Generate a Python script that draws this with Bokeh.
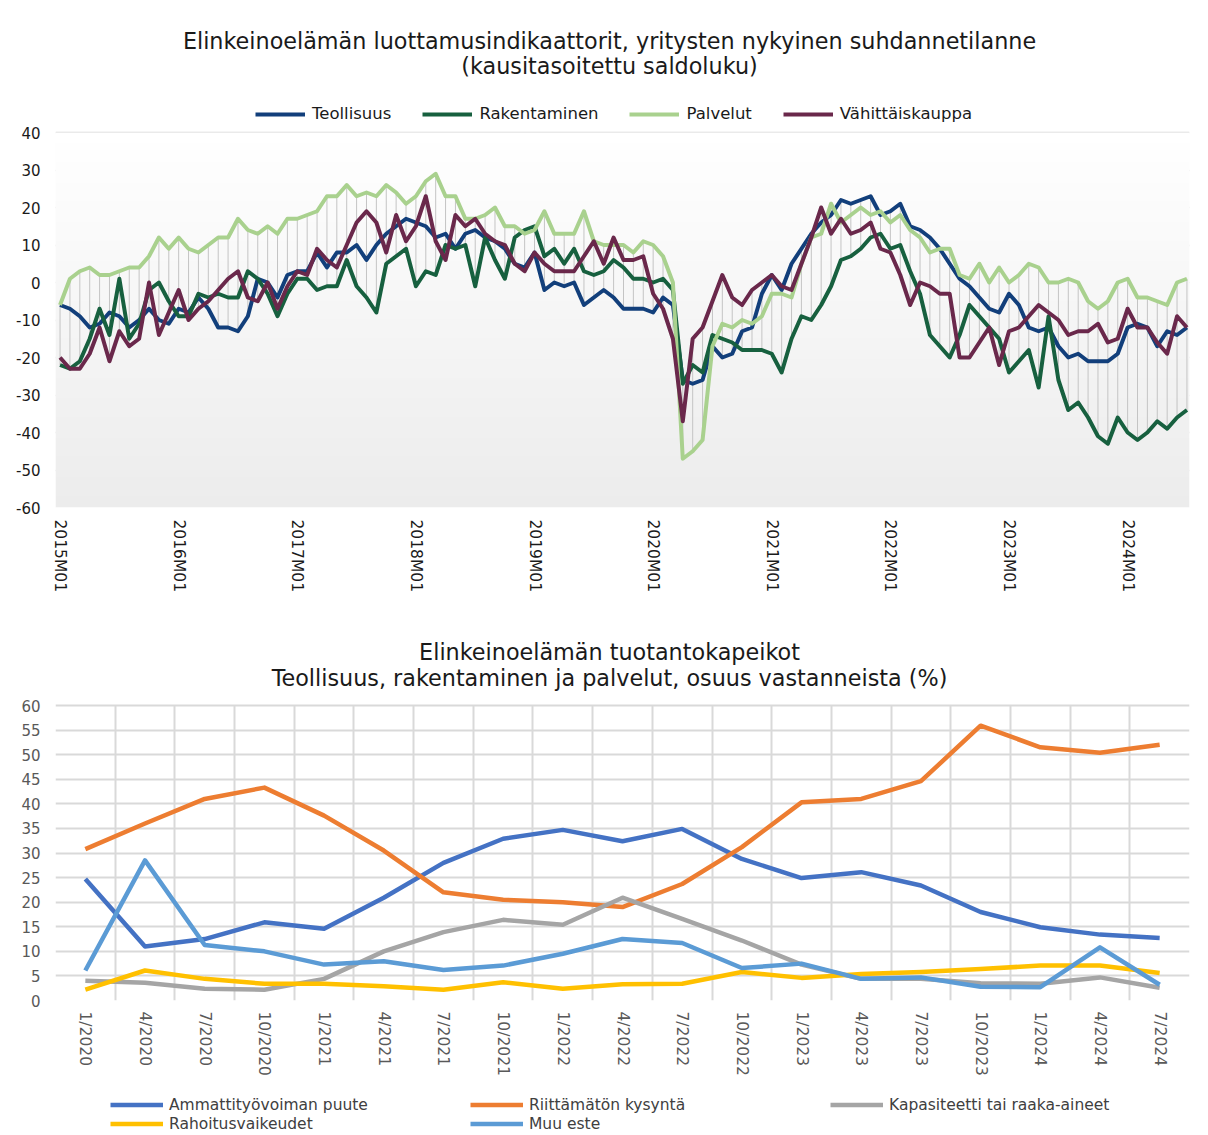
import numpy as np
from bokeh.plotting import figure
from bokeh.models import Range1d, FixedTicker, Legend, LegendItem, Label, Grid
from bokeh.layouts import column
from bokeh.embed import file_html
from bokeh.resources import INLINE

FONT = "DejaVu Sans"

# ---------------- top chart data (monthly 2015M01 .. 2024M07) ----------------
month_labels = [f"{2015 + i // 12}M{i % 12 + 1:02d}" for i in range(115)]

teollisuus = [-6, -7, -9, -12, -11, -8, -9, -12, -10, -7, -10, -11,
              -7, -8, -4, -7, -12, -12, -13, -9, 1, 0, -4, 2,
              3, 3, 8, 4, 8, 8, 10, 6, 10, 13, 15, 17,
              16, 15, 12, 13, 9, 13, 14, 12, 11, 9, 5, 4,
              8, -2, 0, -1, 0, -6, -4, -2, -4, -7, -7, -7,
              -8, -4, -6, -26, -27, -26, -17, -20, -19, -13, -12, -3,
              2, -2, 5, 9, 13, 16, 18, 22, 21, 22, 23, 18,
              19, 21, 15, 14, 12, 9, 5, 1, -1, -4, -7, -8,
              -3, -6, -12, -13, -12, -17, -20, -19, -21, -21, -21, -19,
              -12, -11, -12, -17, -13, -14, -12]
rakentaminen = [-22, -23, -21, -15, -7, -14, 1, -15, -11, -2, 0, -5,
                -9, -9, -3, -4, -3, -4, -4, 3, 1, -3, -9, -3,
                1, 1, -2, -1, -1, 6, -1, -4, -8, 5, 7, 9,
                -1, 3, 2, 10, 9, 10, -1, 12, 6, 1, 12, 14,
                15, 7, 9, 5, 9, 3, 2, 3, 6, 4, 1, 1,
                0, 1, -2, -27, -22, -24, -14, -15, -16, -18, -18, -18,
                -19, -24, -15, -9, -10, -6, -1, 6, 7, 9, 12, 13,
                9, 10, 3, -3, -14, -17, -20, -14, -6, -9, -12, -15,
                -24, -21, -18, -28, -9, -26, -34, -32, -36, -41, -43, -36,
                -40, -42, -40, -37, -39, -36, -34]
palvelut = [-6, 1, 3, 4, 2, 2, 3, 4, 4, 7, 12, 9,
            12, 9, 8, 10, 12, 12, 17, 14, 13, 15, 13, 17,
            17, 18, 19, 23, 23, 26, 23, 24, 23, 26, 24, 21,
            23, 27, 29, 23, 23, 17, 17, 18, 20, 15, 15, 13,
            14, 19, 13, 13, 13, 19, 11, 10, 10, 10, 8, 11,
            10, 7, 0, -47, -45, -42, -17, -11, -12, -10, -11, -9,
            -3, -3, -4, 5, 12, 13, 21, 16, 18, 20, 18, 19,
            16, 18, 14, 12, 8, 9, 9, 2, 1, 5, 0, 4,
            0, 2, 5, 4, 0, 0, 1, 0, -5, -7, -5, 0,
            1, -4, -4, -5, -6, 0, 1]
vahittaiskauppa = [-20, -23, -23, -19, -12, -21, -13, -17, -15, 0, -14, -8,
                   -2, -10, -7, -5, -2, 1, 3, -4, -5, 0, -7, -1,
                   3, 2, 9, 6, 4, 10, 16, 19, 16, 8, 18, 11,
                   15, 23, 11, 6, 18, 15, 17, 13, 11, 10, 5, 3,
                   8, 5, 3, 3, 3, 7, 11, 5, 12, 6, 6, 7,
                   -3, -7, -15, -37, -15, -12, -5, 2, -4, -6, -2, 0,
                   2, -1, -2, 5, 12, 20, 13, 17, 13, 14, 16, 9,
                   8, 2, -6, 0, -1, -3, -3, -20, -20, -16, -12, -22,
                   -13, -12, -9, -6, -8, -10, -14, -13, -13, -11, -16, -15,
                   -7, -12, -12, -16, -19, -9, -12]

top_series = [("Teollisuus", teollisuus, "#123F7B"),
              ("Rakentaminen", rakentaminen, "#17603F"),
              ("Palvelut", palvelut, "#A9D18E"),
              ("Vähittäiskauppa", vahittaiskauppa, "#6A284B")]

# ---------------- bottom chart data (quarterly) ----------------
quarters = ["1/2020", "4/2020", "7/2020", "10/2020", "1/2021", "4/2021", "7/2021",
            "10/2021", "1/2022", "4/2022", "7/2022", "10/2022", "1/2023", "4/2023",
            "7/2023", "10/2023", "1/2024", "4/2024", "7/2024"]
ammattityovoima = [24.7, 11.0, 12.5, 15.9, 14.6, 20.9, 28.0, 32.9, 34.7, 32.4,
                   34.9, 28.8, 24.9, 26.1, 23.4, 18.0, 14.9, 13.4, 12.7]
kysynta = [30.8, 36.0, 41.0, 43.3, 37.6, 30.5, 22.0, 20.5, 20.0, 19.0,
           23.7, 31.2, 40.3, 41.0, 44.6, 55.9, 51.5, 50.4, 52.0]
kapasiteetti = [4.0, 3.6, 2.4, 2.2, 4.4, 10.0, 13.9, 16.4, 15.4, 20.9,
                16.6, 12.2, 7.3, 4.4, 4.4, 3.5, 3.4, 4.7, 2.6]
rahoitus = [2.2, 6.1, 4.4, 3.4, 3.4, 2.9, 2.2, 3.7, 2.4, 3.3,
            3.4, 5.8, 4.6, 5.4, 5.8, 6.4, 7.1, 7.1, 5.6]
muu_este = [6.1, 28.5, 11.3, 10.0, 7.3, 8.0, 6.2, 7.1, 9.5, 12.5,
            11.7, 6.6, 7.5, 4.4, 4.7, 2.8, 2.7, 10.8, 3.2]

bottom_series = [("Ammattityövoiman puute", ammattityovoima, "#4472C4"),
                 ("Riittämätön kysyntä", kysynta, "#ED7D31"),
                 ("Kapasiteetti tai raaka-aineet", kapasiteetti, "#A5A5A5"),
                 ("Rahoitusvaikeudet", rahoitus, "#FFC000"),
                 ("Muu este", muu_este, "#5B9BD5")]
legend_rows = [["Ammattityövoiman puute", "Riittämätön kysyntä", "Kapasiteetti tai raaka-aineet"],
               ["Rahoitusvaikeudet", "Muu este"]]

W = 1206
LEFT = 55


def style_axes(p, color, xsize, ysize, xstand, ystand):
    for ax, size in ((p.xaxis, xsize), (p.yaxis, ysize)):
        ax.axis_line_color = None
        ax.major_tick_line_color = None
        ax.minor_tick_line_color = None
        ax.major_label_text_font = FONT
        ax.major_label_text_font_size = size
        ax.major_label_text_color = color
    p.xaxis.major_label_standoff = xstand
    p.yaxis.major_label_standoff = ystand
    p.xaxis.major_label_orientation = "vertical"


def add_title(p, lines):
    for txt, yy in lines:
        p.add_layout(Label(x=609 - LEFT, y=yy, x_units="screen", y_units="screen", text=txt,
                           text_align="center", text_baseline="middle", text_font=FONT,
                           text_font_size="22.3px", text_color="#1a1a1a"))


# =============================== TOP FIGURE ===============================
# the frame also spans the title/legend area so that those can sit inside it
xm = list(range(len(month_labels)))
x0, x1 = -0.46, len(month_labels) - 1 + 0.26
YMIN1, YMAX1 = -60, 40
p1 = figure(width=W, height=612, x_range=Range1d(x0, x1),
            y_range=Range1d(YMIN1, YMAX1 + 132 / 3.75),
            output_backend="svg", toolbar_location=None,
            min_border_left=LEFT, min_border_right=W - 1198, min_border_top=0,
            min_border_bottom=105)
p1.outline_line_color = None
p1.background_fill_color = "white"

N = 200
grad = np.zeros((N, 1), dtype=np.uint32)
view = grad.view(dtype=np.uint8).reshape((N, 1, 4))
for i in range(N):
    t = i / (N - 1)
    g = int(round(236 + (255 - 236) * t))
    view[i, 0, :] = [g, g, g, 255]
p1.image_rgba(image=[grad], x=x0, y=YMIN1, dw=x1 - x0, dh=YMAX1 - YMIN1)

lo = [min(v) for v in zip(teollisuus, rakentaminen, palvelut, vahittaiskauppa)]
hi = [max(v) for v in zip(teollisuus, rakentaminen, palvelut, vahittaiskauppa)]
p1.segment(x0=xm, y0=lo, x1=xm, y1=hi, line_color="#c4c4c4", line_width=1)

items = []
for name, vals, col in top_series:
    r = p1.line(xm, vals, line_width=4, line_color=col, line_join="round")
    items.append(LegendItem(label=name, renderers=[r]))

yt = list(range(YMIN1, YMAX1 + 1, 10))
p1.yaxis.ticker = FixedTicker(ticks=yt)
p1.yaxis.major_label_overrides = {v: str(v) for v in yt}
p1.ygrid.ticker = FixedTicker(ticks=yt)
p1.ygrid.grid_line_color = "#d6d6d6"
p1.ygrid.grid_line_width = 1.5
p1.xgrid.visible = False
jan = list(range(0, len(month_labels), 12))
p1.xaxis.ticker = FixedTicker(ticks=jan)
p1.xaxis.major_label_overrides = {i: month_labels[i] for i in jan}
style_axes(p1, "#1a1a1a", "15.5px", "15px", 6, 9)

leg1 = Legend(items=items, orientation="horizontal", location=(255 - LEFT, 384),
              glyph_width=50, glyph_height=18, label_height=18, label_standoff=7,
              spacing=31, padding=0, margin=0, border_line_color=None,
              background_fill_alpha=0, label_text_font=FONT,
              label_text_font_size="16.5px", label_text_color="#1a1a1a")
p1.add_layout(leg1)
add_title(p1, (("Elinkeinoelämän luottamusindikaattorit, yritysten nykyinen suhdannetilanne", 467),
               ("(kausitasoitettu saldoluku)", 442)))

# =============================== BOTTOM FIGURE ===============================
xq = list(range(len(quarters)))
YMAX2 = 60
p2 = figure(width=W, height=473, x_range=Range1d(-0.5, len(quarters) - 0.5),
            y_range=Range1d(0, YMAX2 + 93 / (295 / 60)), output_backend="svg",
            toolbar_location=None,
            min_border_left=LEFT, min_border_right=W - 1189, min_border_top=0,
            min_border_bottom=85)
p2.outline_line_color = None

for name, vals, col in bottom_series:
    p2.line(xq, vals, line_width=4.5, line_color=col, line_join="round")

yt2 = list(range(0, YMAX2 + 1, 5))
bounds_x = [i - 0.5 for i in range(len(quarters) + 1)]
p2.yaxis.ticker = FixedTicker(ticks=yt2)
p2.ygrid.ticker = FixedTicker(ticks=yt2)
p2.ygrid.grid_line_color = "#d9d9d9"
p2.ygrid.grid_line_width = 2
if "cross_bounds" in Grid.properties():
    p2.xgrid.ticker = FixedTicker(ticks=bounds_x)
    p2.xgrid.cross_bounds = (0, YMAX2)
    p2.xgrid.grid_line_color = "#d9d9d9"
    p2.xgrid.grid_line_width = 2
else:
    p2.xgrid.visible = False
    p2.segment(x0=bounds_x, y0=[0] * len(bounds_x), x1=bounds_x, y1=[YMAX2] * len(bounds_x),
               line_color="#d9d9d9", line_width=2, level="underlay")
p2.xaxis.ticker = FixedTicker(ticks=xq)
p2.xaxis.major_label_overrides = {i: q for i, q in enumerate(quarters)}
style_axes(p2, "#595959", "15.5px", "15px", 5, 9)
add_title(p2, (("Elinkeinoelämän tuotantokapeikot", 349),
               ("Teollisuus, rakentaminen ja palvelut, osuus vastanneista (%)", 323)))

# =============================== LEGEND STRIP ===============================
# legend keys: the same series drawn into a strip whose y-range lies outside the data
p3 = figure(width=W, height=49, x_range=Range1d(-0.5, len(quarters) - 0.5),
            y_range=Range1d(1000, 1001),
            x_axis_type=None, y_axis_type=None, output_backend="svg",
            toolbar_location=None, min_border_left=LEFT, min_border_right=W - 1189,
            min_border_top=0, min_border_bottom=0)
p3.outline_line_color = None
keys = {}
for name, vals, col in bottom_series:
    keys[name] = p3.line(xq, vals, line_width=4.5, line_color=col)
for row, ly in zip(legend_rows, (20.5, 1.5)):
    lg = Legend(items=[LegendItem(label=nm, renderers=[keys[nm]]) for nm in row],
                orientation="horizontal", location=(110 - LEFT, ly),
                glyph_width=53, glyph_height=17, label_height=17, label_width=299,
                label_standoff=6, spacing=2, padding=0, margin=0, border_line_color=None,
                background_fill_alpha=0, label_text_font=FONT,
                label_text_font_size="15.5px", label_text_color="#404040")
    p3.add_layout(lg)

layout = column(p1, p2, p3, spacing=0)
open("out.html", "w").write(file_html(layout, INLINE))
